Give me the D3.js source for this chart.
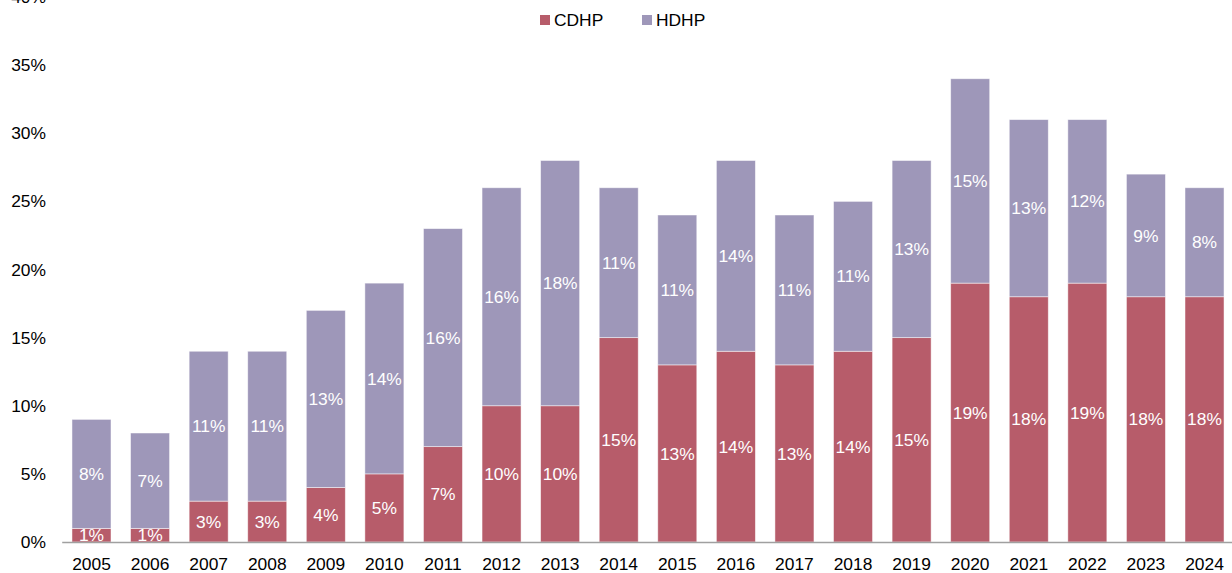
<!DOCTYPE html>
<html><head><meta charset="utf-8">
<script src="https://cdn.jsdelivr.net/npm/d3@7/dist/d3.min.js"></script>
<style>body{margin:0;background:#fff}svg{display:block}text{font-family:"Liberation Sans",Arial,sans-serif}</style>
</head><body><svg id="c" width="1232" height="573"></svg>
<script>
const years = ["2005","2006","2007","2008","2009","2010","2011","2012","2013","2014","2015","2016","2017","2018","2019","2020","2021","2022","2023","2024"];
const cdhp = [1,1,3,3,4,5,7,10,10,15,13,14,13,14,15,19,18,19,18,18];
const hdhp = [8,7,11,11,13,14,16,16,18,11,11,14,11,11,13,15,13,12,9,8];
const yTicks = [0,5,10,15,20,25,30,35,40];
const seriesNames = ["CDHP","HDHP"];
const colors = ["#b75c6a","#9e97b9"];

const svg = d3.select("#c");
const x = d3.scaleBand().domain(years).range([62.2,1233.8]).paddingInner(0.334).paddingOuter(0.167);
const y = d3.scaleLinear().domain([0,40]).range([542,-3]);

// y tick labels
svg.append("g").selectAll("text").data(yTicks).join("text")
  .attr("x",46).attr("y",d=>y(d)).attr("text-anchor","end").attr("dy","0.35em")
  .attr("font-size",17.4).attr("fill","#000").text(d=>d+"%");

const stacked = years.map((yr,i)=>({yr, segs:[{s:0,v:cdhp[i],y0:0,y1:cdhp[i]},{s:1,v:hdhp[i],y0:cdhp[i],y1:cdhp[i]+hdhp[i]}]}));

const g = svg.append("g");
stacked.forEach(d=>{
  d.segs.forEach(s=>{
    g.append("rect").attr("x",x(d.yr)).attr("width",x.bandwidth())
     .attr("y",y(s.y1)).attr("height",y(s.y0)-y(s.y1))
     .attr("fill",colors[s.s]).attr("stroke","#fff").attr("stroke-width",0.8).attr("stroke-opacity",0.6);
  });
});
stacked.forEach(d=>{
  d.segs.forEach(s=>{
    g.append("text").attr("x",x(d.yr)+x.bandwidth()/2).attr("y",(y(s.y0)+y(s.y1))/2)
     .attr("dy","0.35em").attr("text-anchor","middle").attr("font-size",17.4).attr("fill","#fff")
     .text(s.v+"%");
  });
});

// x axis
svg.append("line").attr("x1",62.2).attr("x2",1232).attr("y1",542.5).attr("y2",542.5).attr("stroke","#a0a0a0").attr("stroke-width",1.5);
svg.append("g").selectAll("text").data(years).join("text")
  .attr("x",d=>x(d)+x.bandwidth()/2).attr("y",564).attr("dy","0.35em").attr("text-anchor","middle")
  .attr("font-size",17.4).attr("fill","#000").text(d=>d);

// legend
const leg = [{n:seriesNames[0],c:colors[0],x:540},{n:seriesNames[1],c:colors[1],x:642}];
leg.forEach(l=>{
  svg.append("rect").attr("x",l.x).attr("y",15).attr("width",10).attr("height",10).attr("fill",l.c);
  svg.append("text").attr("x",l.x+14).attr("y",20).attr("dy","0.35em").attr("font-size",17.4).attr("fill","#000").text(l.n);
});
</script></body></html>
